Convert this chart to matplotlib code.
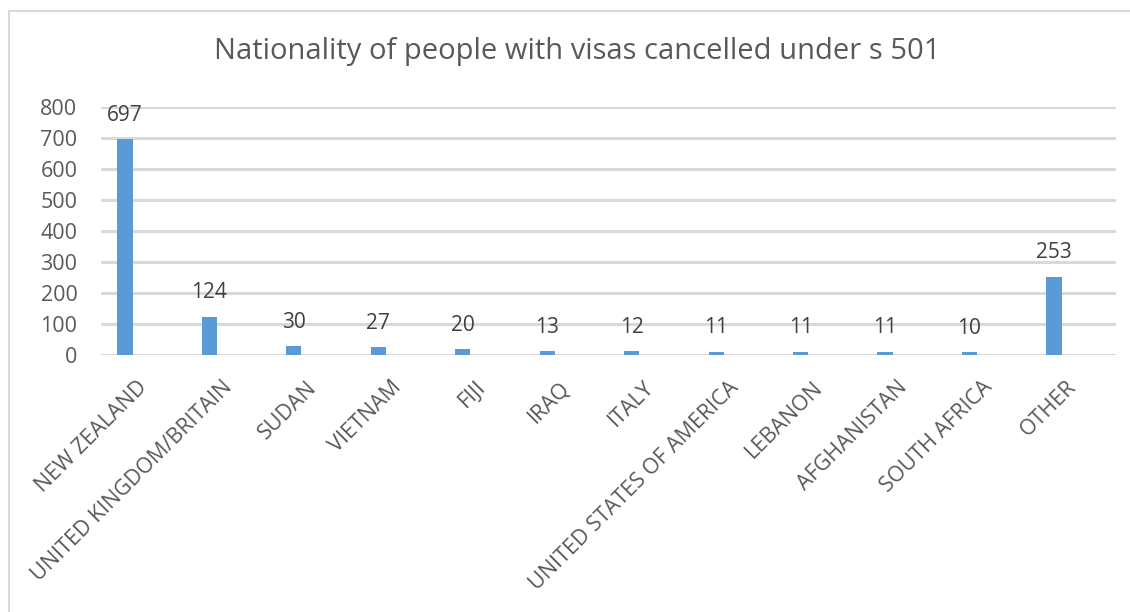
import matplotlib
matplotlib.use("Agg")
import matplotlib.pyplot as plt
from matplotlib.lines import Line2D
import matplotlib.transforms as mtransforms

categories = ["NEW ZEALAND", "UNITED KINGDOM/BRITAIN", "SUDAN", "VIETNAM", "FIJI",
              "IRAQ", "ITALY", "UNITED STATES OF AMERICA", "LEBANON", "AFGHANISTAN",
              "SOUTH AFRICA", "OTHER"]
values = [697, 124, 30, 27, 20, 13, 12, 11, 11, 11, 10, 253]
yticks = [0, 100, 200, 300, 400, 500, 600, 700, 800]
title = "Nationality of people with visas cancelled under s 501"

plt.rcParams['font.family'] = ['Open Sans', 'DejaVu Sans']

W, H = 1130, 612
fig = plt.figure(figsize=(W / 100, H / 100), dpi=100)
fig.patch.set_facecolor("white")

# outer chart border (top and left visible, rest cropped)
fig.add_artist(Line2D([9 / W, 1.0], [1 - 11 / H, 1 - 11 / H], color="#D9D9D9", lw=1.5,
                      transform=fig.transFigure))
fig.add_artist(Line2D([9 / W, 9 / W], [0, 1 - 11 / H], color="#D9D9D9", lw=1.5,
                      transform=fig.transFigure))

left, right = 101 / W, 1116 / W
bottom, top = 1 - 355 / H, 1 - 107 / H
ax = fig.add_axes([left, bottom, right - left, top - bottom])

x = list(range(len(categories)))
ax.bar(x, values, width=0.18, color="#5B9BD5", zorder=3)

ax.set_xlim(-0.284, 11.735)
ax.set_ylim(0, 800)
ax.set_yticks(yticks)
ax.yaxis.grid(True, color="#D9D9D9", lw=2.2, zorder=0)
ax.set_axisbelow(True)
for s in ax.spines.values():
    s.set_visible(False)
ax.tick_params(axis="both", length=0)
ax.tick_params(axis="y", labelsize=15.5, labelcolor="#595959", pad=17)

ax.set_xticks(x)
ax.set_xticklabels(categories, rotation=45, ha="right", rotation_mode="anchor",
                   fontsize=15.5, color="#595959")
offset = mtransforms.ScaledTranslation(12 / 100, -17 / 100, fig.dpi_scale_trans)
for lbl in ax.get_xticklabels():
    lbl.set_transform(lbl.get_transform() + offset)

for xi, v in zip(x, values):
    ax.annotate(str(v), (xi, v), xytext=(0, 17), textcoords="offset points",
                ha="center", va="center", fontsize=15, color="#404040")

fig.text(577 / W, 1 - 52 / H, title, ha="center", va="center", fontsize=21,
         color="#595959")

fig.savefig("out.png", dpi=100, facecolor="white")
